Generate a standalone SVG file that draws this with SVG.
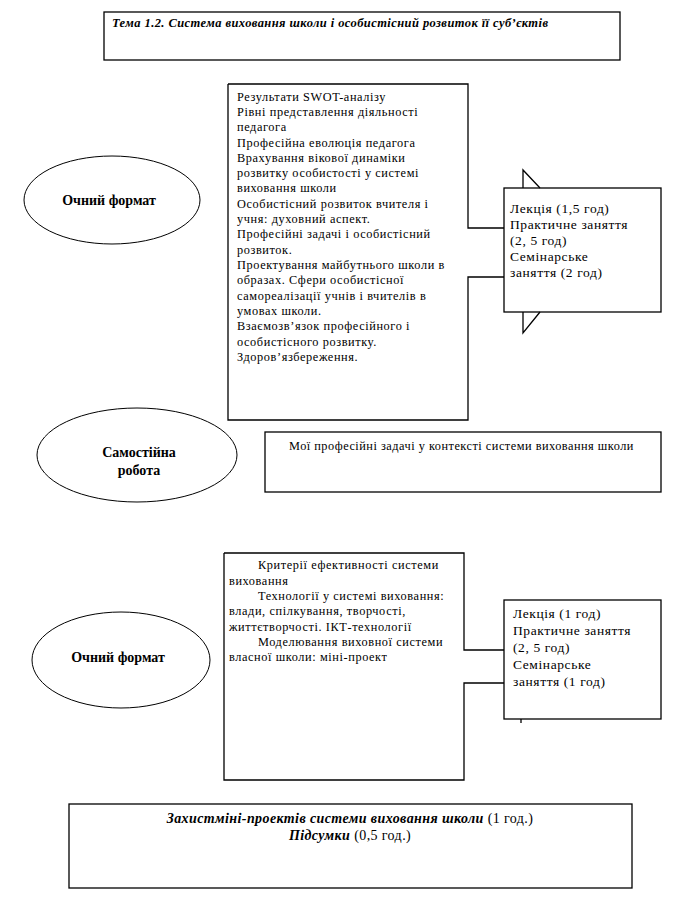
<svg xmlns="http://www.w3.org/2000/svg" width="685" height="913" viewBox="0 0 685 913">
<style>
.box{fill:#fff;stroke:#000;stroke-width:1.3}
.ell{fill:#fff;stroke:#000;stroke-width:1}
.ln{fill:none;stroke:#000;stroke-width:1.3}
.t{font-family:"Liberation Serif","Times New Roman",serif;font-size:12.3px;letter-spacing:0.6px;fill:#000}
.s{font-family:"Liberation Serif","Times New Roman",serif;font-size:13.5px;letter-spacing:0.6px;fill:#000}
.e{font-family:"Liberation Serif","Times New Roman",serif;font-size:14px;font-weight:bold;fill:#000;text-anchor:middle}
.bi{font-family:"Liberation Serif","Times New Roman",serif;font-weight:bold;font-style:italic}
.f{font-family:"Liberation Serif","Times New Roman",serif;font-size:14px;letter-spacing:0.4px;fill:#000;text-anchor:middle}
</style>
<rect width="685" height="913" fill="#fff"/>
<g id="title">
<rect class="box" x="104" y="12" width="516" height="48"/>
<text class="bi" x="112" y="27" font-size="12.5" textLength="436" lengthAdjust="spacing">Тема 1.2. Система виховання школи і особистісний розвиток її суб’єктів</text>
</g>
<g id="ellipse1">
<ellipse class="ell" cx="112" cy="200" rx="88" ry="44"/>
<text class="e" x="109" y="205">Очний формат</text>
</g>
<g id="content1">
<rect x="228" y="84" width="240" height="336" fill="#fff"/>
<text class="t" x="237" y="101">Результати SWOT-аналізу</text>
<text class="t" x="237" y="116">Рівні представлення діяльності</text>
<text class="t" x="237" y="131">педагога</text>
<text class="t" x="237" y="147">Професійна еволюція педагога</text>
<text class="t" x="237" y="162">Врахування вікової динаміки</text>
<text class="t" x="237" y="177">розвитку особистості  у системі</text>
<text class="t" x="237" y="192">виховання школи</text>
<text class="t" x="237" y="208">Особистісний розвиток вчителя і</text>
<text class="t" x="237" y="223">учня: духовний аспект.</text>
<text class="t" x="237" y="238">Професійні задачі і особистісний</text>
<text class="t" x="237" y="254">розвиток.</text>
<text class="t" x="237" y="269">Проектування майбутнього школи в</text>
<text class="t" x="237" y="284">образах. Сфери особистісної</text>
<text class="t" x="237" y="300">самореалізації учнів і вчителів в</text>
<text class="t" x="237" y="315">умовах школи.</text>
<text class="t" x="237" y="330">Взаємозв’язок професійного і</text>
<text class="t" x="237" y="346">особистісного розвитку.</text>
<text class="t" x="237" y="361">Здоров’язбереження.</text>
</g>
<g id="hours1">
<rect class="box" x="504" y="188" width="157" height="124"/>
<text class="s" x="510" y="213">Лекція (1,5 год)</text>
<text class="s" x="510" y="229">Практичне заняття</text>
<text class="s" x="510" y="245">(2, 5 год)</text>
<text class="s" x="510" y="261">Семінарське</text>
<text class="s" x="510" y="277">заняття (2 год)</text>
</g>
<g id="ellipse2">
<ellipse class="ell" cx="137" cy="455" rx="100" ry="47"/>
<text class="e" x="139" y="457">Самостійна</text>
<text class="e" x="139" y="475">робота</text>
</g>
<g id="selfwork">
<rect class="box" x="265" y="432" width="396" height="60"/>
<text class="t" x="289" y="450" textLength="345" lengthAdjust="spacing">Мої професійні задачі у контексті системи виховання школи</text>
</g>
<g id="ellipse3">
<ellipse class="ell" cx="121" cy="660" rx="89" ry="48"/>
<text class="e" x="118" y="662">Очний формат</text>
</g>
<g id="content2">
<rect x="224" y="553" width="240" height="227" fill="#fff"/>
<text class="t" x="258" y="569">Критерії ефективності системи</text>
<text class="t" x="229" y="585">виховання</text>
<text class="t" x="258" y="600">Технології у системі виховання:</text>
<text class="t" x="229" y="615">влади, спілкування, творчості,</text>
<text class="t" x="229" y="631">життєтворчості. ІКТ-технології</text>
<text class="t" x="258" y="646">Моделювання виховної системи</text>
<text class="t" x="229" y="661">власної школи: міні-проект</text>
</g>
<g id="hours2">
<rect class="box" x="504" y="600" width="157" height="119"/>
<text class="s" x="513" y="618">Лекція (1 год)</text>
<text class="s" x="513" y="635">Практичне заняття</text>
<text class="s" x="513" y="652">(2, 5 год)</text>
<text class="s" x="513" y="669">Семінарське</text>
<text class="s" x="513" y="686">заняття (1 год)</text>
</g>
<g id="final">
<rect class="box" x="69" y="804" width="563" height="84"/>
<text class="f" x="350" y="823"><tspan class="bi">Захистміні-проектів системи виховання школи</tspan> (1 год.)</text>
<text class="f" x="350" y="840"><tspan class="bi">Підсумки</tspan> (0,5 год.)</text>
</g>
<g id="connectors">
<path class="ln" d="M228,84 H468 V228 H504"/>
<path class="ln" d="M228,84 V420 H468 V277 H504"/>
<path class="ln" d="M523,188 V170 L540,188"/>
<path class="ln" d="M523,312 V333 L540,312"/>
<path class="ln" d="M224,553 H464 V650 H504"/>
<path class="ln" d="M224,553 V780 H464 V683 H504"/>
<path class="ln" d="M521,719 V723"/>
</g>
</svg>
